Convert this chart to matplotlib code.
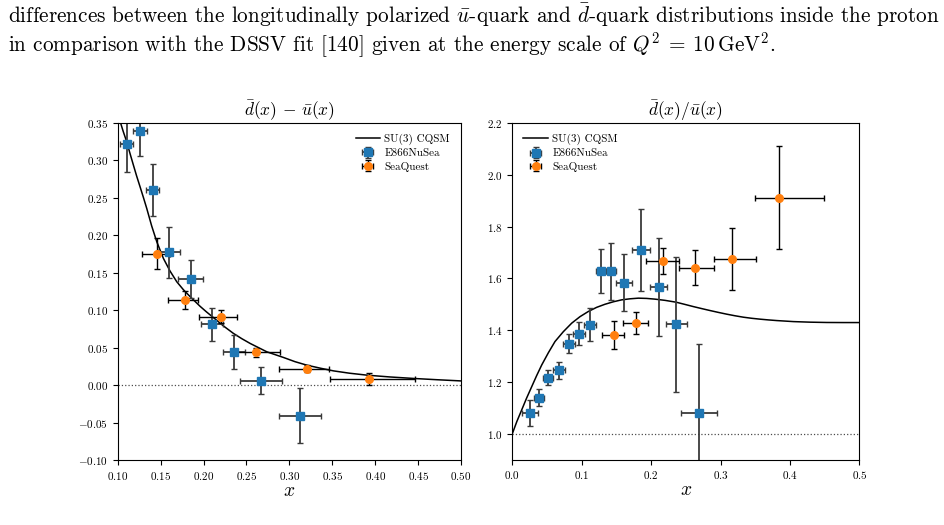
import numpy as np
import matplotlib
matplotlib.use("Agg")
import matplotlib.pyplot as plt

# Computer Modern look, like the LaTeX figure
plt.rcParams['font.family'] = 'serif'
plt.rcParams['font.serif'] = ['cmr10']
plt.rcParams['mathtext.fontset'] = 'cm'
plt.rcParams['axes.formatter.use_mathtext'] = True

# =============================================================================
# Data
# =============================================================================

# --- left panel: dbar - ubar
diff_e866_x = [0.1105, 0.126, 0.1408, 0.1595, 0.185, 0.210, 0.2356, 0.2671, 0.3129]
diff_e866_xerr = [0.0078, 0.008, 0.0078, 0.0126, 0.0146, 0.0125, 0.013, 0.0243, 0.0245]
diff_e866_y = [0.322, 0.339, 0.260, 0.177, 0.1415, 0.0809, 0.0438, 0.0058, -0.0411]
diff_e866_yerr = [0.038, 0.034, 0.035, 0.034, 0.025, 0.022, 0.0227, 0.0184, 0.0367]

diff_sq_x = [0.1452, 0.1788, 0.2202, 0.2613, 0.3202, 0.3922]
diff_sq_xlo = [0.0164, 0.0208, 0.026, 0.023, 0.0323, 0.0453]
diff_sq_xhi = [0.0159, 0.0143, 0.0188, 0.0274, 0.0259, 0.0543]
diff_sq_y = [0.1754, 0.1133, 0.0911, 0.0438, 0.0218, 0.008]
diff_sq_yerr = [0.021, 0.0115, 0.0084, 0.006, 0.005, 0.0082]

diff_model_x = [0.1027, 0.1065, 0.1105, 0.1143, 0.1182, 0.122, 0.126, 0.13, 0.1338,
                0.1395, 0.1455, 0.1532, 0.161, 0.1688, 0.1765, 0.1843, 0.196, 0.2035,
                0.2115, 0.223, 0.2348, 0.2445, 0.2543, 0.2738, 0.2931, 0.3065, 0.3204,
                0.336, 0.3514, 0.37, 0.3904, 0.417, 0.4447, 0.472, 0.50]
diff_model_y = [0.352, 0.338, 0.3245, 0.309, 0.2937, 0.279, 0.2646, 0.25, 0.2357,
                0.2125, 0.1912, 0.169, 0.152, 0.1378, 0.1272, 0.118, 0.105, 0.0975,
                0.090, 0.079, 0.0689, 0.0619, 0.0555, 0.0443, 0.0368, 0.0312, 0.0265,
                0.0225, 0.0189, 0.0158, 0.0132, 0.0108, 0.0088, 0.0071, 0.0055]

# --- right panel: dbar / ubar
ratio_e866_x = [0.0259, 0.0384, 0.0519, 0.0672, 0.0817, 0.0965, 0.112, 0.1273, 0.1422,
                0.1609, 0.1859, 0.2109, 0.2363, 0.269]
ratio_e866_xerr = [0.0115, 0.0077, 0.0072, 0.0084, 0.008, 0.0086, 0.008, 0.0074, 0.007,
                   0.012, 0.013, 0.0127, 0.0149, 0.0257]
ratio_e866_y = [1.080, 1.139, 1.2168, 1.245, 1.347, 1.386, 1.4206, 1.628, 1.628,
                1.583, 1.710, 1.566, 1.422, 1.080]
ratio_e866_yerr = [0.05, 0.032, 0.029, 0.032, 0.037, 0.045, 0.063, 0.086, 0.11,
                   0.11, 0.157, 0.19, 0.26, 0.267]

ratio_sq_x = [0.147, 0.1787, 0.2166, 0.2627, 0.316, 0.3842]
ratio_sq_xlo = [0.0173, 0.0187, 0.024, 0.023, 0.0249, 0.0342]
ratio_sq_xhi = [0.0144, 0.0163, 0.0234, 0.0284, 0.0351, 0.0648]
ratio_sq_y = [1.382, 1.427, 1.667, 1.641, 1.676, 1.912]
ratio_sq_yerr = [0.055, 0.042, 0.05, 0.067, 0.12, 0.2]

ratio_model_x = [0.0, 0.0065, 0.0135, 0.0205, 0.028, 0.035, 0.0424, 0.052, 0.0615,
                 0.0735, 0.0856, 0.0975, 0.1095, 0.1215, 0.1336, 0.1456, 0.1576,
                 0.1696, 0.1816, 0.1936, 0.2056, 0.22, 0.2359, 0.2485, 0.2608, 0.2729,
                 0.2849, 0.2969, 0.3089, 0.3209, 0.3329, 0.3449, 0.3569, 0.369, 0.381,
                 0.405, 0.429, 0.453, 0.477, 0.50]
ratio_model_y = [1.0, 1.047, 1.0918, 1.137, 1.182, 1.224, 1.2657, 1.313, 1.356,
                 1.394, 1.427, 1.452, 1.472, 1.488, 1.500, 1.5095, 1.517,
                 1.521, 1.5235, 1.5225, 1.5197, 1.515, 1.508, 1.4995, 1.491, 1.4832,
                 1.4757, 1.4685, 1.4617, 1.4555, 1.450, 1.4458, 1.4424, 1.4395, 1.437,
                 1.433, 1.4308, 1.4296, 1.4293, 1.4293]

blue = '#1f77b4'
orange = '#ff7f0e'

fig = plt.figure(figsize=(9.44, 5.25), dpi=100)

# Caption text that sits above the figure in the page
fig.text(0.0085, 0.956,
         r"differences between the longitudinally polarized $\bar{u}$-quark and "
         r"$\bar{d}$-quark distributions inside the proton",
         fontsize=15.3, va='baseline', ha='left')
fig.text(0.0085, 0.902,
         r"in comparison with the DSSV fit [140] given at the energy scale of "
         r"$Q^2\:=\:10\,\mathrm{GeV}^2$.",
         fontsize=15.3, va='baseline', ha='left')

ax1 = fig.add_axes([0.1247, 0.1238, 0.3637, 0.6425])
ax2 = fig.add_axes([0.5427, 0.1245, 0.3676, 0.6413])


def draw_panel(ax, mx, my, ex, exerr, ey, eyerr, sx, sxlo, sxhi, sy, syerr, ref):
    ax.plot(mx, my, color='k', lw=1.1, label='SU(3) CQSM')
    ax.axhline(ref, color='k', lw=0.9, ls=':', alpha=0.7)
    ax.errorbar(ex, ey, xerr=exerr, yerr=eyerr, fmt='s', color=blue, ms=5.5,
                ecolor='#3a3a3a', elinewidth=1.3, capsize=2, label='E866NuSea')
    ax.errorbar(sx, sy, xerr=[sxlo, sxhi], yerr=syerr, fmt='o', color=orange,
                ms=5.5, ecolor='k', elinewidth=1.0, capsize=2, label='SeaQuest')
    ax.tick_params(labelsize=8)
    ax.set_xlabel(r'$x$', fontsize=14, labelpad=0)


draw_panel(ax1, diff_model_x, diff_model_y, diff_e866_x, diff_e866_xerr,
           diff_e866_y, diff_e866_yerr, diff_sq_x, diff_sq_xlo, diff_sq_xhi,
           diff_sq_y, diff_sq_yerr, 0.0)
ax1.set_xlim(0.10, 0.50)
ax1.set_ylim(-0.10, 0.35)
ax1.set_xticks(np.arange(0.10, 0.501, 0.05))
ax1.set_yticks(np.arange(-0.10, 0.351, 0.05))
ax1.set_title(r'$\bar{d}(x)\,-\,\bar{u}(x)$', fontsize=12.5, pad=3)
ax1.legend(loc='upper right', frameon=False, fontsize=8, handlelength=2.2,
           borderaxespad=0.6, labelspacing=0.3, handletextpad=0.4)

draw_panel(ax2, ratio_model_x, ratio_model_y, ratio_e866_x, ratio_e866_xerr,
           ratio_e866_y, ratio_e866_yerr, ratio_sq_x, ratio_sq_xlo, ratio_sq_xhi,
           ratio_sq_y, ratio_sq_yerr, 1.0)
ax2.set_xlim(0.0, 0.5)
ax2.set_ylim(0.9, 2.2)
ax2.set_xticks(np.arange(0.0, 0.501, 0.1))
ax2.set_yticks(np.arange(1.0, 2.201, 0.2))
ax2.set_title(r'$\bar{d}(x)/\bar{u}(x)$', fontsize=12.5, pad=3)
ax2.legend(loc='upper left', frameon=False, fontsize=8, handlelength=2.2,
           borderaxespad=0.6, labelspacing=0.3, handletextpad=0.4)

fig.savefig('out.png', dpi=100)
